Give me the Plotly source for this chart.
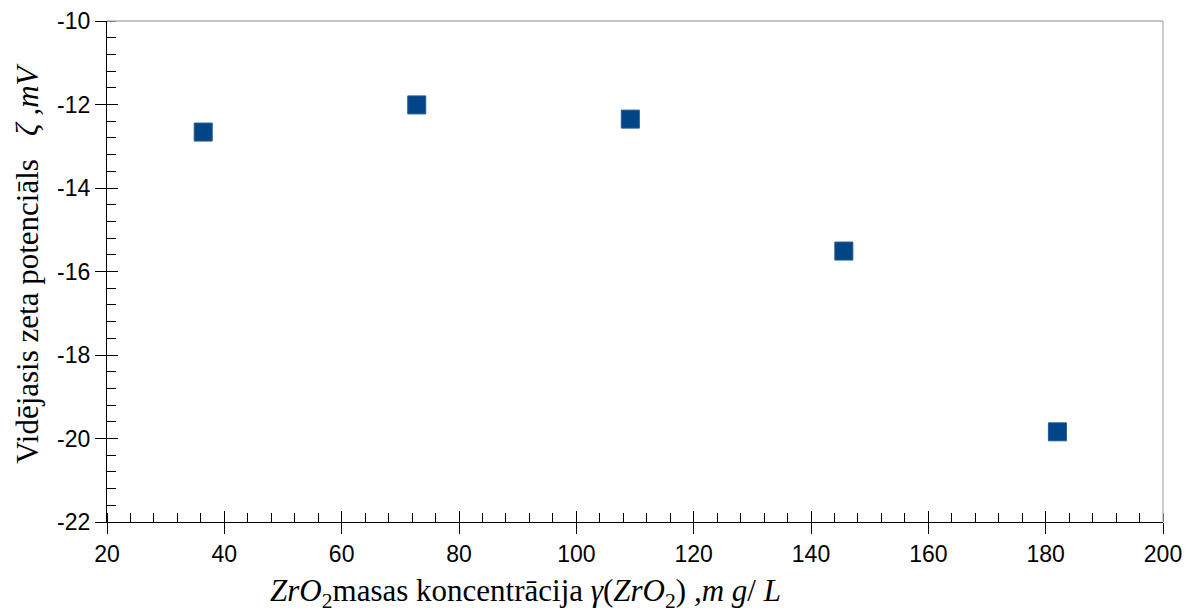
import plotly.graph_objects as go

conc = [36.4, 72.8, 109.2, 145.6, 182.0]
zeta = [-12.66, -12.01, -12.35, -15.51, -19.84]

x_ticks = [20, 40, 60, 80, 100, 120, 140, 160, 180, 200]
y_ticks = [-10, -12, -14, -16, -18, -20, -22]
y_labels = ["-10", "-12", "-14", "-16", "-18", "-20", "-22"]

fig = go.Figure()
fig.add_trace(go.Scatter(
    x=conc, y=zeta, mode="markers",
    marker=dict(symbol="square", size=18, color="#004586",
                line=dict(color="#1f5b96", width=1)),
    showlegend=False,
))

tickfont = dict(family="Liberation Sans", size=23, color="#000")
fig.update_layout(
    width=1187, height=613,
    margin=dict(l=107, r=24, t=21, b=91, autoexpand=False),
    paper_bgcolor="white", plot_bgcolor="white",
    xaxis=dict(range=[20, 200], tickvals=x_ticks, ticks="outside", ticklen=11,
               tickcolor="#000", tickwidth=1.3, showgrid=False, zeroline=False,
               showline=True, linecolor="#000", linewidth=1.3, automargin=False,
               tickfont=tickfont,
               minor=dict(dtick=4, ticks="inside", ticklen=9, tickcolor="#000", tickwidth=1.3)),
    yaxis=dict(range=[-22, -10], tickvals=y_ticks, ticktext=y_labels, ticks="outside", ticklen=11,
               tickcolor="#000", tickwidth=1.3, showgrid=False, zeroline=False,
               showline=True, linecolor="#000", linewidth=1.3, automargin=False,
               tickfont=tickfont,
               minor=dict(dtick=0.4, ticks="inside", ticklen=9, tickcolor="#000", tickwidth=1.3)),
    xaxis2=dict(range=[20, 200], overlaying="x", tickvals=x_ticks, ticks="inside", ticklen=11,
                tickcolor="#000", tickwidth=1.3, showticklabels=False, showgrid=False,
                zeroline=False, side="bottom", anchor="y", automargin=False),
    yaxis2=dict(range=[-22, -10], overlaying="y", tickvals=y_ticks, ticks="inside", ticklen=11,
                tickcolor="#000", tickwidth=1.3, showticklabels=False, showgrid=False,
                zeroline=False, side="left", anchor="x", automargin=False),
    shapes=[
        dict(type="line", xref="paper", yref="paper", x0=0, x1=1, y0=1, y1=1,
             line=dict(color="#b3b3b3", width=1.3)),
        dict(type="line", xref="paper", yref="paper", x0=1, x1=1, y0=0, y1=1,
             line=dict(color="#b3b3b3", width=1.3)),
    ],
)
fig.add_trace(go.Scatter(x=[None], y=[None], xaxis="x2", yaxis="y2", showlegend=False))

titlefont = dict(family="Liberation Serif", size=31, color="#000")
fig.add_annotation(
    xref="paper", yref="paper", x=(525 - 107) / (1163 - 107), y=-0.142,
    xanchor="center", yanchor="middle", showarrow=False, font=titlefont,
    text="<i>ZrO</i><sub>2</sub>masas koncentrācija <i>γ</i>(<i>ZrO</i><sub>2</sub>)<i> ,m g</i>/<i> L</i>",
)
fig.add_annotation(
    xref="paper", yref="paper", x=-0.076, y=(522 - 264) / (522 - 21),
    xanchor="center", yanchor="middle", showarrow=False, font=titlefont, textangle=-90,
    text="Vidējasis zeta potenciāls   <i>ζ ,mV</i>",
)

fig.write_html("out.html")
